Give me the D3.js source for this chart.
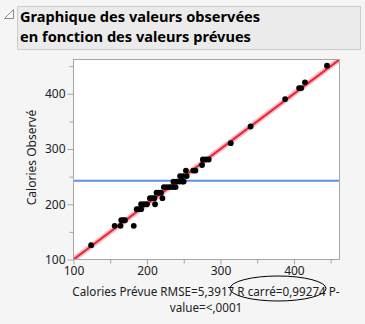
<!DOCTYPE html>
<html><head><meta charset="utf-8">
<script src="https://cdn.jsdelivr.net/npm/d3@7"></script>
<style>body{margin:0;background:#f5f5f5;}svg{display:block;font-family:"Noto Sans",sans-serif;}</style>
</head><body><svg id="c" width="365" height="324"></svg>
<script>
const titleLines = ["Graphique des valeurs observées", "en fonction des valeurs prévues"];
const yTitle = "Calories Observé";
const xTitleLines = ["Calories Prévue RMSE=5,3917 R carré=0,99274 P-", "value=<,0001"];
const majorTicks = [100, 200, 300, 400];
const minorTicks = [150, 250, 350, 450];
const domain = [100, 462];
const predicted = [124,156,164,182,165,168,170,186,189,192,192,196,200,211,204,207,210,221,213,216,219,223,227,231,235,239,236,240,244,248,250,245,249,254,253,263,266,275,276,280,284,314,341,388,407,410,415,445];
const observed  = [126,161,161,161,171,171,171,191,191,191,200,200,200,200,211,211,211,211,221,221,221,231,231,231,231,231,241,241,241,241,241,251,251,251,261,261,261,271,281,281,281,310.5,340.7,390.3,410.3,410.3,420.6,450.8];
const meanObserved = 242.6;
const fitLine = [100, 462];

const svg = d3.select("#c");
const L = 73.5, R = 339.5, T = 59.5, B = 259.5;
const x = d3.scaleLinear().domain(domain).range([L, R]);
const y = d3.scaleLinear().domain(domain).range([B, T]);

// header
svg.append("rect").attr("x",17.5).attr("y",6.5).attr("width",343).attr("height",43).attr("fill","#ebebeb").attr("stroke","#cdcdcd");
svg.append("path").attr("d","M4.5,18.5 L13.5,18.5 L13.5,9.5 Z").attr("fill","#fafafa").attr("stroke","#8a8a8a");
svg.append("g").selectAll("text").data(titleLines).join("text")
  .attr("x",20).attr("y",(d,i)=>22+i*19.5).attr("font-size",14.6).attr("font-weight","bold").attr("fill","#000").text(d=>d);

// plot bg
svg.append("rect").attr("x",L).attr("y",T).attr("width",R-L).attr("height",B-T).attr("fill","#fff");

svg.append("clipPath").attr("id","cp").append("rect").attr("x",L).attr("y",T).attr("width",R-L).attr("height",B-T);
const g = svg.append("g").attr("clip-path","url(#cp)");

// fit band and line
g.append("line").attr("x1",x(fitLine[0])).attr("y1",y(fitLine[0])).attr("x2",x(fitLine[1])).attr("y2",y(fitLine[1]))
  .attr("stroke","#f5a9b2").attr("stroke-width",5.5).attr("opacity",0.75);
g.append("line").attr("x1",x(fitLine[0])).attr("y1",y(fitLine[0])).attr("x2",x(fitLine[1])).attr("y2",y(fitLine[1]))
  .attr("stroke","#e8283a").attr("stroke-width",2);
// mean line
g.append("line").attr("x1",L).attr("x2",R).attr("y1",y(meanObserved)).attr("y2",y(meanObserved))
  .attr("stroke","#5b8ff0").attr("stroke-width",2);
// points
g.selectAll("circle").data(predicted).join("circle")
  .attr("cx",d=>x(d)).attr("cy",(d,i)=>y(observed[i])).attr("r",2.9).attr("fill","#000");

svg.append("rect").attr("x",L).attr("y",T).attr("width",R-L).attr("height",B-T).attr("fill","none").attr("stroke","#a6a6a6");

// axes
const xAx = svg.append("g").attr("transform",`translate(0,${B})`)
  .call(d3.axisBottom(x).tickValues(majorTicks).tickSize(5).tickPadding(2));
const xMin = svg.append("g").attr("transform",`translate(0,${B})`)
  .call(d3.axisBottom(x).tickValues(minorTicks).tickSize(4).tickFormat(""));
const yAx = svg.append("g").attr("transform",`translate(${L},0)`)
  .call(d3.axisLeft(y).tickValues(majorTicks).tickSize(6).tickPadding(2));
const yMin = svg.append("g").attr("transform",`translate(${L},0)`)
  .call(d3.axisLeft(y).tickValues(minorTicks).tickSize(4).tickFormat(""));
[xAx,xMin,yAx,yMin].forEach(a=>{
  a.select(".domain").remove();
  a.selectAll(".tick line").attr("stroke","#a6a6a6");
  a.selectAll("text").attr("font-size",12).attr("fill","#222").attr("font-family","\"Noto Sans\",sans-serif");
});

// titles
svg.append("text").attr("transform","translate(36,157.5) rotate(-90)").attr("text-anchor","middle")
  .attr("font-size",12).attr("fill","#222").text(yTitle);
svg.append("g").selectAll("text").data(xTitleLines).join("text")
  .attr("x",206).attr("y",(d,i)=>296+i*16).attr("text-anchor","middle").attr("font-size",11.7).attr("fill","#222").text(d=>d);
svg.append("ellipse").attr("cx",278).attr("cy",288.5).attr("rx",48).attr("ry",12.5).attr("fill","none").attr("stroke","#000").attr("stroke-width",1);
</script></body></html>
